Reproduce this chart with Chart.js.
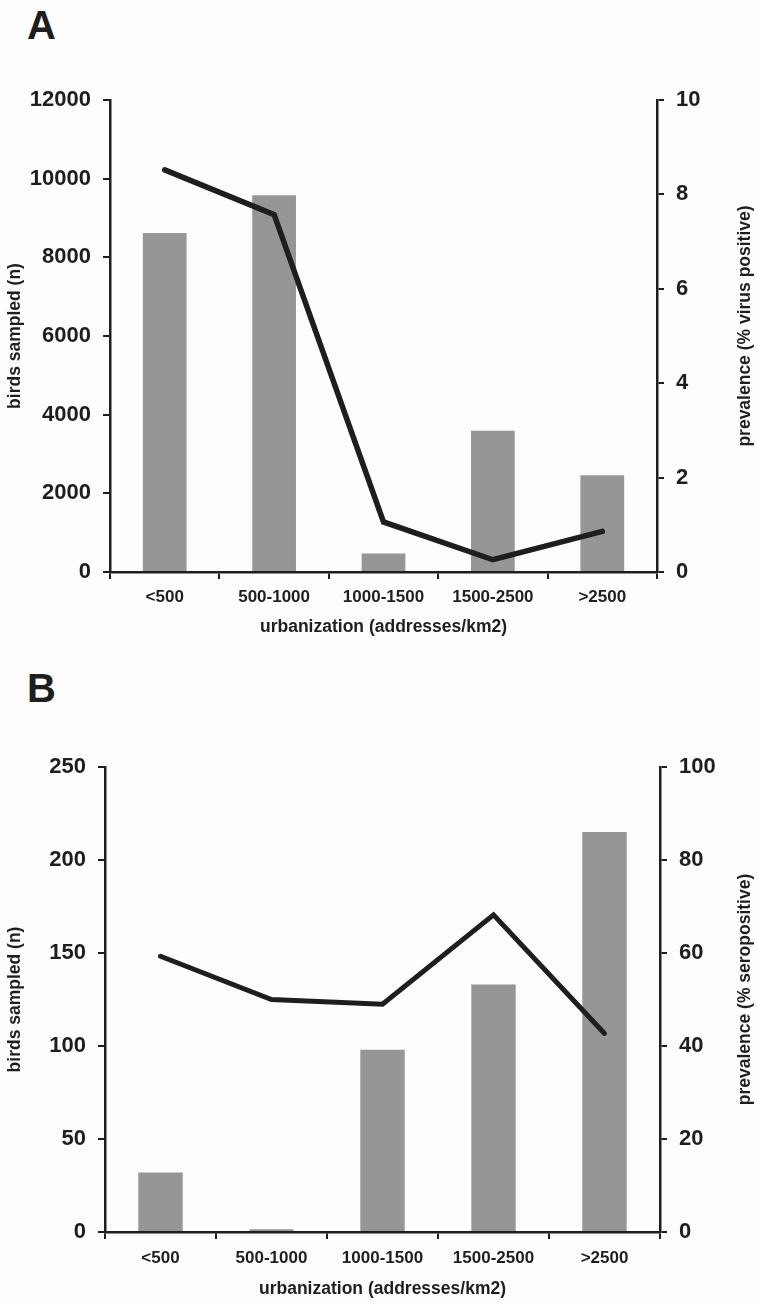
<!DOCTYPE html>
<html><head><meta charset="utf-8">
<script src="https://cdn.jsdelivr.net/npm/chart.js@4.4.1/dist/chart.umd.min.js"></script>
<style>
html,body{margin:0;padding:0;background:#fdfdfd;width:758px;height:1305px;overflow:hidden;}
.panel{position:absolute;left:0;width:758px;}
canvas{display:block;}
.letter{position:absolute;font-family:"Liberation Sans",Arial,sans-serif;font-weight:bold;font-size:40px;color:#1e1e1e;line-height:1;}
</style></head>
<body>
<div class="letter" style="left:27px;top:5px">A</div>
<div class="panel" style="top:0;height:650px"><canvas id="ca" width="758" height="650"></canvas></div>
<div class="letter" style="left:27px;top:668px">B</div>
<div class="panel" style="top:650px;height:655px"><canvas id="cb" width="758" height="655"></canvas></div>
<script>
const categories = ['<500', '500-1000', '1000-1500', '1500-2500', '>2500'];
const birdsA = [8620, 9580, 470, 3590, 2460];
const prevA = [8.52, 7.57, 1.06, 0.26, 0.86];
const birdsB = [32, 1.5, 98, 133, 215];
const prevB = [59.3, 50.0, 49.0, 68.2, 42.7];
const xTitle = 'urbanization (addresses/km2)';
const leftTitle = 'birds sampled (n)';
const rightTitleA = 'prevalence (% virus positive)';
const rightTitleB = 'prevalence (% seropositive)';

const FAM = '"Liberation Sans", Arial, sans-serif';
const INK = '#1e1e1e';
const BAR = '#969696';
const TITLE_SIZE = 17.5;

function axisGrid() {
  return {display: true, drawOnChartArea: false, drawTicks: true, tickLength: 7, color: INK, lineWidth: 2};
}
const plain = v => String(v);

// right-axis title reading bottom-to-top, like the left one
const rightTitlePlugin = {
  id: 'rightTitle',
  afterDraw(chart, args, opts) {
    const {ctx, chartArea} = chart;
    const s = chart.scales.y1;
    ctx.save();
    ctx.font = 'bold ' + TITLE_SIZE + 'px ' + FAM;
    ctx.fillStyle = INK;
    ctx.textAlign = 'center';
    ctx.textBaseline = 'middle';
    ctx.translate(s.right - 13, (chartArea.top + chartArea.bottom) / 2 + opts.dy);
    ctx.rotate(-Math.PI / 2);
    ctx.fillText(opts.text, 0, 0);
    ctx.restore();
  }
};

function makeChart(id, cfg) {
  return new Chart(document.getElementById(id), {
    data: {
      labels: categories,
      datasets: [
        {type: 'line', data: cfg.prev, yAxisID: 'y1', borderColor: INK, borderWidth: cfg.lw,
         pointRadius: 0, pointHoverRadius: 0, borderCapStyle: 'round', borderJoinStyle: 'miter', order: 0, tension: 0},
        {type: 'bar', data: cfg.birds, yAxisID: 'y', backgroundColor: BAR, borderWidth: 0,
         barPercentage: 0.4, categoryPercentage: 1.0, order: 1}
      ]
    },
    plugins: [rightTitlePlugin],
    options: {
      responsive: false, animation: false, devicePixelRatio: 1,
      layout: {padding: {top: cfg.top, bottom: 0, left: 0, right: 0}},
      plugins: {legend: {display: false}, tooltip: {enabled: false},
        rightTitle: {text: cfg.rightTitle, dy: -10}},
      scales: {
        x: {
          type: 'category', offset: true,
          grid: Object.assign(axisGrid(), {offset: true}),
          border: {display: true, color: INK, width: 2.5},
          ticks: {color: INK, font: {family: FAM, size: 17, weight: 'bold'}, padding: cfg.xPad, maxRotation: 0, autoSkip: false},
          title: {display: true, text: xTitle, color: INK, font: {family: FAM, size: TITLE_SIZE, weight: 'bold'}, padding: {top: 0, bottom: cfg.titlePadB}},
          afterFit: s => { s.height = cfg.xH; }
        },
        y: {
          position: 'left', min: 0, max: cfg.ymax,
          grid: axisGrid(),
          border: {display: true, color: INK, width: 2.5},
          ticks: {stepSize: cfg.ystep, callback: plain, color: INK, font: {family: FAM, size: 22, weight: 'bold'}, padding: 12},
          title: {display: true, text: leftTitle, color: INK, font: {family: FAM, size: TITLE_SIZE, weight: 'bold'}, padding: {top: 5, bottom: 0}},
          afterFit: s => { s.width = cfg.leftW; }
        },
        y1: {
          position: 'right', min: 0, max: cfg.y1max,
          grid: axisGrid(),
          border: {display: true, color: INK, width: 2.5},
          ticks: {stepSize: cfg.y1step, callback: plain, color: INK, font: {family: FAM, size: 22, weight: 'bold'}, padding: 12},
          title: {display: false},
          afterFit: s => { s.width = cfg.rightW; }
        }
      }
    }
  });
}

makeChart('ca', {prev: prevA, birds: birdsA, lw: 5.5, top: 100, xH: 78, xPad: 8, titlePadB: 12,
  ymax: 12000, ystep: 2000, y1max: 10, y1step: 2, leftW: 110, rightW: 101, rightTitle: rightTitleA});
makeChart('cb', {prev: prevB, birds: birdsB, lw: 5, top: 117, xH: 73, xPad: 9, titlePadB: 5,
  ymax: 250, ystep: 50, y1max: 100, y1step: 20, leftW: 105, rightW: 98, rightTitle: rightTitleB});
</script>
</body></html>
